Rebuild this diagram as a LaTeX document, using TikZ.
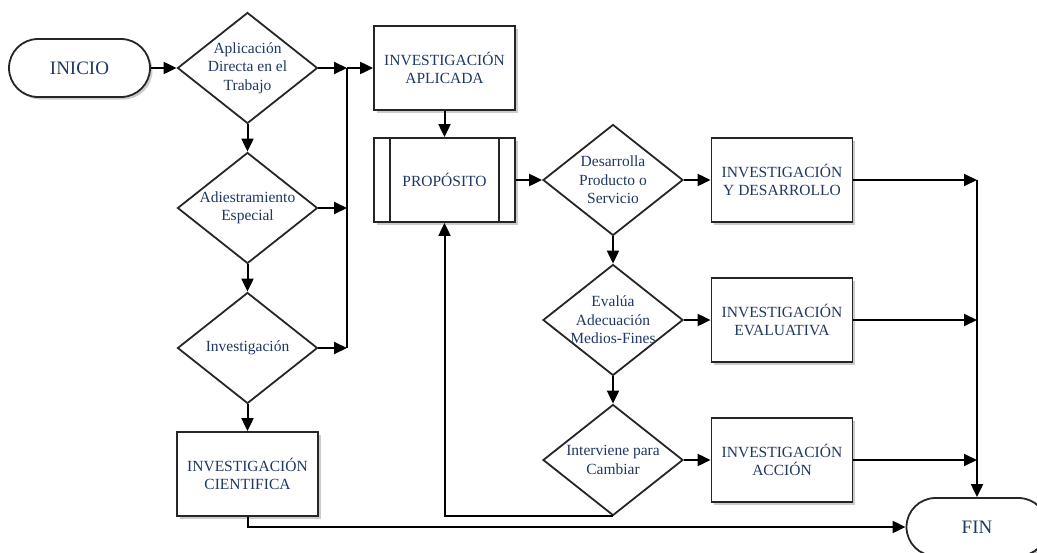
\documentclass[tikz,border=0pt]{standalone}
\usepackage{fontspec}
\setmainfont{Liberation Serif}
\usetikzlibrary{shapes.geometric,arrows.meta,shadows,calc}
\definecolor{ink}{RGB}{31,56,100}
\definecolor{edge}{RGB}{38,38,38}
\begin{document}
\begin{tikzpicture}[x=1pt,y=-1pt,
  base/.style={draw=edge, line width=1.8pt, fill=white, text=ink,
    font=\fontsize{15.5}{18.5}\selectfont, align=center, inner sep=0pt},
  boxshadow/.style={drop shadow={shadow xshift=2.5pt,shadow yshift=-2.5pt,fill=black,opacity=0.2}},
  terminal/.style={base, boxshadow, rounded corners=29pt, minimum width=141pt,
    minimum height=58pt, font=\fontsize{19}{22}\selectfont},
  process/.style={base, boxshadow, rectangle, minimum width=141pt, minimum height=84pt},
  decision/.style={base, diamond, minimum width=140pt, minimum height=111pt},
  dlabel/.style={text=ink, font=\fontsize{15.5}{18.5}\selectfont, align=center, inner sep=0pt},
  flow/.style={draw=black, line width=2pt, -{Triangle[length=13pt,width=12pt]}},
  link/.style={draw=black, line width=2pt}
]
\useasboundingbox (0,0) rectangle (1037,552);

% start and end
\node[terminal] (ini) at (79.5,68) {INICIO};
\node[terminal] (fin) at (977,527) {FIN};

% left column of decisions
\node[decision] (d1) at (247.5,68) {};
\node[dlabel] (d1t) at (d1) {Aplicación\\Directa en el\\Trabajo};
\node[decision] (d2) at (247.5,208) {};
\node[dlabel] (d2t) at (d2) {Adiestramiento\\Especial};
\node[decision] (d3) at (247.5,348) {};
\node[dlabel] (d3t) at (d3) {Investigación};
\node[process] (cient) at (247.5,474) {INVESTIGACIÓN\\CIENTIFICA};

% applied research and purpose
\node[process] (apl) at (444.5,68) {INVESTIGACIÓN\\APLICADA};
\node[process] (prop) at (444.5,180) {PROPÓSITO};
\draw[draw=edge, line width=1.8pt] ([xshift=17pt]prop.north west) -- ([xshift=17pt]prop.south west);
\draw[draw=edge, line width=1.8pt] ([xshift=-17pt]prop.north east) -- ([xshift=-17pt]prop.south east);

% right column of decisions and outcomes
\node[decision] (dd) at (613,180) {};
\node[dlabel] (ddt) at (dd) {Desarrolla\\Producto o\\Servicio};
\node[decision] (de) at (613,320) {};
\node[dlabel] (det) at (de) {Evalúa\\Adecuación\\Medios-Fines};
\node[decision] (di) at (613,460) {};
\node[dlabel] (dit) at (di) {Interviene para\\Cambiar};
\node[process] (id) at (782,180) {INVESTIGACIÓN\\Y DESARROLLO};
\node[process] (eva) at (782,320) {INVESTIGACIÓN\\EVALUATIVA};
\node[process] (acc) at (782,460) {INVESTIGACIÓN\\ACCIÓN};

% junction points
\coordinate (j1) at (347,68);
\coordinate (j2) at (347,208);
\coordinate (j3) at (347,348);
\coordinate (r1) at (977,180);
\coordinate (r2) at (977,320);
\coordinate (r3) at (977,460);
\coordinate (loop) at (prop.south |- di.south);

% connectors, left part
\draw[flow] (ini.east) -- (d1.west);
\draw[flow] (d1.south) -- (d2.north);
\draw[flow] (d2.south) -- (d3.north);
\draw[flow] (d3.south) -- (cient.north);
\draw[flow] (d1.east) -- (j1);
\draw[flow] (d2.east) -- (j2);
\draw[flow] (d3.east) -- (j3);
\draw[link] (j1) -- (j3);
\draw[flow] (j1) -- (apl.west);
\draw[flow] (cient.south) |- (fin.west);

% connectors, right part
\draw[flow] (apl.south) -- (prop.north);
\draw[flow] (prop.east) -- (dd.west);
\draw[flow] (dd.east) -- (id.west);
\draw[flow] (dd.south) -- (de.north);
\draw[flow] (de.east) -- (eva.west);
\draw[flow] (de.south) -- (di.north);
\draw[flow] (di.east) -- (acc.west);
\draw[flow] (di.south) -- (loop) -- (prop.south);
\draw[flow] (id.east) -- (r1);
\draw[flow] (eva.east) -- (r2);
\draw[flow] (acc.east) -- (r3);
\draw[flow] (r1) -- (fin.north);
\end{tikzpicture}
\end{document}
